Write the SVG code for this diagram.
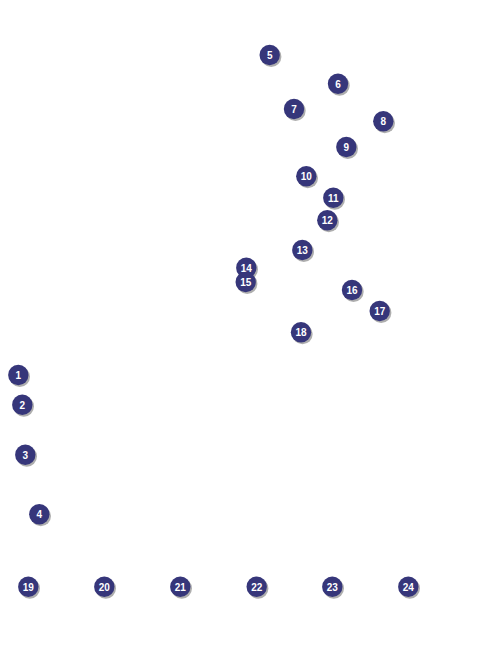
<svg xmlns="http://www.w3.org/2000/svg" width="482" height="650" viewBox="0 0 482 650">
<defs>
<style>
.sh{fill:#9a9a9a;opacity:0.8}
.c{fill:#36367a}
.t{fill:#ffffff;font-family:"Liberation Sans",Arial,sans-serif;font-weight:bold;font-size:10px;text-anchor:middle;dominant-baseline:central}
</style>
<g id="m">
<circle class="sh" cx="1.5" cy="1.8" r="10.2"/>
<circle class="c" cx="0" cy="0" r="10.2"/>
</g>
</defs>
<rect width="482" height="650" fill="#ffffff"/>
<g id="connectors"></g>
<g id="n1" transform="translate(18.3,375)"><use href="#m"/><text class="t" y="0.5">1</text></g>
<g id="n2" transform="translate(22.3,404.7)"><use href="#m"/><text class="t" y="0.5">2</text></g>
<g id="n3" transform="translate(25.3,454.7)"><use href="#m"/><text class="t" y="0.5">3</text></g>
<g id="n4" transform="translate(39.3,514.3)"><use href="#m"/><text class="t" y="0.5">4</text></g>
<g id="n5" transform="translate(269.7,55)"><use href="#m"/><text class="t" y="0.5">5</text></g>
<g id="n6" transform="translate(338,83.7)"><use href="#m"/><text class="t" y="0.5">6</text></g>
<g id="n7" transform="translate(294,109)"><use href="#m"/><text class="t" y="0.5">7</text></g>
<g id="n8" transform="translate(383.3,121.3)"><use href="#m"/><text class="t" y="0.5">8</text></g>
<g id="n9" transform="translate(346.3,147)"><use href="#m"/><text class="t" y="0.5">9</text></g>
<g id="n10" transform="translate(306.3,176.3)"><use href="#m"/><text class="t" y="0.5">10</text></g>
<g id="n11" transform="translate(333.3,197.7)"><use href="#m"/><text class="t" y="0.5">11</text></g>
<g id="n12" transform="translate(327.3,220.3)"><use href="#m"/><text class="t" y="0.5">12</text></g>
<g id="n13" transform="translate(302.3,250)"><use href="#m"/><text class="t" y="0.5">13</text></g>
<g id="n14" transform="translate(246.3,267.7)"><use href="#m"/><text class="t" y="0.5">14</text></g>
<g id="n15" transform="translate(245.7,282)"><use href="#m"/><text class="t" y="0.5">15</text></g>
<g id="n16" transform="translate(352,290)"><use href="#m"/><text class="t" y="0.5">16</text></g>
<g id="n17" transform="translate(379.7,311)"><use href="#m"/><text class="t" y="0.5">17</text></g>
<g id="n18" transform="translate(301,332.3)"><use href="#m"/><text class="t" y="0.5">18</text></g>
<g id="n19" transform="translate(28.3,586.7)"><use href="#m"/><text class="t" y="0.5">19</text></g>
<g id="n20" transform="translate(104.3,586.7)"><use href="#m"/><text class="t" y="0.5">20</text></g>
<g id="n21" transform="translate(180.3,586.7)"><use href="#m"/><text class="t" y="0.5">21</text></g>
<g id="n22" transform="translate(256.7,586.7)"><use href="#m"/><text class="t" y="0.5">22</text></g>
<g id="n23" transform="translate(332.3,586.7)"><use href="#m"/><text class="t" y="0.5">23</text></g>
<g id="n24" transform="translate(408.3,586.7)"><use href="#m"/><text class="t" y="0.5">24</text></g>
</svg>
